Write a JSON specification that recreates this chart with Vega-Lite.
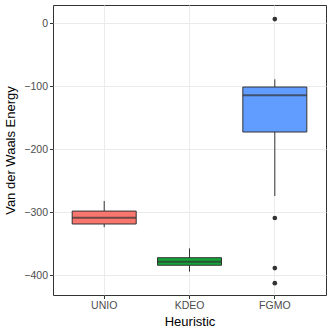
{
  "$schema": "https://vega.github.io/schema/vega-lite/v6.json",
  "width": 273,
  "height": 290,
  "autosize": {"type": "none"},
  "padding": {"left": 53, "top": 5, "right": 6, "bottom": 37},
  "background": "white",
  "config": {
    "view": {"stroke": "#333333", "strokeWidth": 1},
    "font": "Liberation Sans",
    "axis": {
      "domain": false,
      "tickColor": "#333333",
      "tickSize": 3.5,
      "labelColor": "#4D4D4D",
      "labelFontSize": 10.5,
      "labelFont": "Liberation Sans",
      "titleFont": "Liberation Sans",
      "titleFontSize": 13,
      "titleFontWeight": "normal",
      "titleColor": "#000000",
      "gridColor": "#EBEBEB",
      "gridWidth": 1
    }
  },
  "datasets": {
    "boxes": [
      {"Heuristic": "UNIO", "lower": -324, "q1": -319, "median": -309, "q3": -298.5, "upper": -282.5},
      {"Heuristic": "KDEO", "lower": -394.5, "q1": -384.5, "median": -378.8, "q3": -372.5, "upper": -357.7},
      {"Heuristic": "FGMO", "lower": -274.6, "q1": -173, "median": -114.8, "q3": -101.6, "upper": -89.4}
    ],
    "outliers": [
      {"Heuristic": "FGMO", "value": 6.3},
      {"Heuristic": "FGMO", "value": -309.5},
      {"Heuristic": "FGMO", "value": -388.9},
      {"Heuristic": "FGMO", "value": -413}
    ]
  },
  "layer": [
    {
      "data": {"name": "boxes"},
      "mark": {"type": "rule", "color": "#333333", "strokeWidth": 1},
      "encoding": {
        "x": {
          "field": "Heuristic", "type": "nominal",
          "sort": ["UNIO", "KDEO", "FGMO"],
          "scale": {"type": "band", "paddingInner": 0, "paddingOuter": 0.1},
          "axis": {"labelAngle": 0, "grid": true, "bandPosition": 0.5, "titlePadding": 4, "labelPadding": 2},
          "title": "Heuristic"
        },
        "y": {
          "field": "lower", "type": "quantitative",
          "scale": {"domain": [-431.7, 28.6], "nice": false, "zero": false},
          "axis": {
            "values": [0, -50, -100, -150, -200, -250, -300, -350, -400],
            "grid": true,
            "labelExpr": "datum.value % 100 === 0 ? datum.label : ''",
            "tickOpacity": {"condition": {"test": "datum.value % 100 !== 0", "value": 0}, "value": 1},
            "gridWidth": {"condition": {"test": "datum.value % 100 !== 0", "value": 0.5}, "value": 1},
            "labelPadding": 2,
            "titlePadding": 6
          },
          "title": "Van der Waals Energy"
        },
        "y2": {"field": "upper"}
      }
    },
    {
      "data": {"name": "boxes"},
      "mark": {"type": "bar", "size": 64, "stroke": "#333333", "strokeWidth": 1},
      "encoding": {
        "x": {"field": "Heuristic", "type": "nominal", "sort": ["UNIO", "KDEO", "FGMO"]},
        "y": {"field": "q1", "type": "quantitative"},
        "y2": {"field": "q3"},
        "color": {
          "field": "Heuristic", "type": "nominal",
          "scale": {"domain": ["UNIO", "KDEO", "FGMO"], "range": ["#F8766D", "#13A538", "#619CFF"]},
          "legend": null
        }
      }
    },
    {
      "data": {"name": "boxes"},
      "mark": {"type": "tick", "size": 64, "thickness": 2, "color": "#333333"},
      "encoding": {
        "x": {"field": "Heuristic", "type": "nominal", "sort": ["UNIO", "KDEO", "FGMO"]},
        "y": {"field": "median", "type": "quantitative"}
      }
    },
    {
      "data": {"name": "outliers"},
      "mark": {"type": "circle", "size": 22, "color": "#333333", "opacity": 1},
      "encoding": {
        "x": {"field": "Heuristic", "type": "nominal", "sort": ["UNIO", "KDEO", "FGMO"]},
        "y": {"field": "value", "type": "quantitative"}
      }
    }
  ]
}
